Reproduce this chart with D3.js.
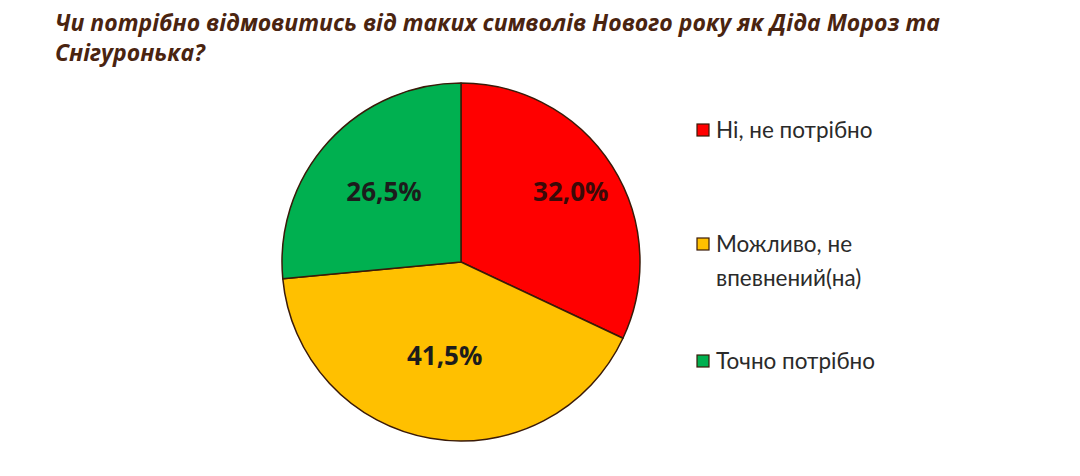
<!DOCTYPE html>
<html>
<head>
<meta charset="utf-8">
<script src="https://cdnjs.cloudflare.com/ajax/libs/d3/7.8.5/d3.min.js"></script>
<style>
  body { margin: 0; background: #fff; }
  svg { display: block; }
</style>
</head>
<body>
<svg width="1080" height="476"></svg>
<script>
// survey answers, in clockwise order from 12 o'clock
var categories = ["Ні, не потрібно", "Можливо, не впевнений(на)", "Точно потрібно"];
var values = [32.0, 41.5, 26.5];
var colors = ["#FF0000", "#FFC000", "#00B050"];
var legendLines = [["Ні, не потрібно"], ["Можливо, не", "впевнений(на)"], ["Точно потрібно"]];
var titleLines = ["Чи потрібно відмовитись від таких символів Нового року як Діда Мороз та", "Снігуронька?"];

var svg = d3.select("svg");

// title
svg.append("text")
    .attr("x", 55)
    .attr("y", 31)
    .style("font-family", "'Open Sans', sans-serif")
    .style("font-weight", "bold")
    .style("font-style", "italic")
    .style("font-size", "23px")
    .style("fill", "#4a2410")
    .selectAll("tspan").data(titleLines)
    .enter().append("tspan")
    .attr("x", 55)
    .attr("dy", function(d, i){ return i == 0 ? 0 : 30; })
    .text(function(d){ return d; });

var cx = 461, cy = 262, r = 179;

var pie = d3.pie().sort(null).value(function(d){ return d; });
var arc = d3.arc().innerRadius(0).outerRadius(r);
var labelR = [130, 95, 104];

var g = svg.append("g").attr("transform", "translate(" + [cx, cy] + ")");
var arcs = pie(values);

g.selectAll("path").data(arcs)
    .enter().append("path")
    .attr("d", arc)
    .style("fill", function(d, i){ return colors[i]; })
    .style("stroke", "#3a1a08")
    .style("stroke-width", 1.5)
    .style("stroke-linejoin", "round");

g.selectAll("text.lbl").data(arcs)
    .enter().append("text")
    .attr("class", "lbl")
    .attr("transform", function(d, i){
        var a = (d.startAngle + d.endAngle) / 2;
        return "translate(" + [Math.sin(a) * labelR[i], -Math.cos(a) * labelR[i]] + ")";
    })
    .attr("text-anchor", "middle")
    .attr("dy", "0.35em")
    .style("font-family", "'Open Sans', sans-serif")
    .style("font-weight", "bold")
    .style("font-size", "26px")
    .style("fill", function(d, i){ return i == 0 ? "#3a0a08" : "#1c1c1c"; })
    .text(function(d){ return d.data.toFixed(1).replace(".", ",") + "%"; });

// legend
var legendY = [130, 244, 361];
var leg = svg.append("g").selectAll("g").data(categories)
    .enter().append("g")
    .attr("transform", function(d, i){ return "translate(" + [697, legendY[i]] + ")"; });

leg.append("rect")
    .attr("x", 0).attr("y", -6)
    .attr("width", 12).attr("height", 12)
    .style("fill", function(d, i){ return colors[i]; })
    .style("stroke", "#3a1a08")
    .style("stroke-width", 1.2);

leg.append("text")
    .attr("x", 19)
    .attr("y", 8)
    .style("font-family", "Lato, sans-serif")
    .style("font-size", "22.5px")
    .style("fill", "#2a2a2a")
    .selectAll("tspan").data(function(d, i){ return legendLines[i]; })
    .enter().append("tspan")
    .attr("x", 19)
    .attr("dy", function(d, i){ return i == 0 ? 0 : 34; })
    .text(function(d){ return d; });
</script>
</body>
</html>
